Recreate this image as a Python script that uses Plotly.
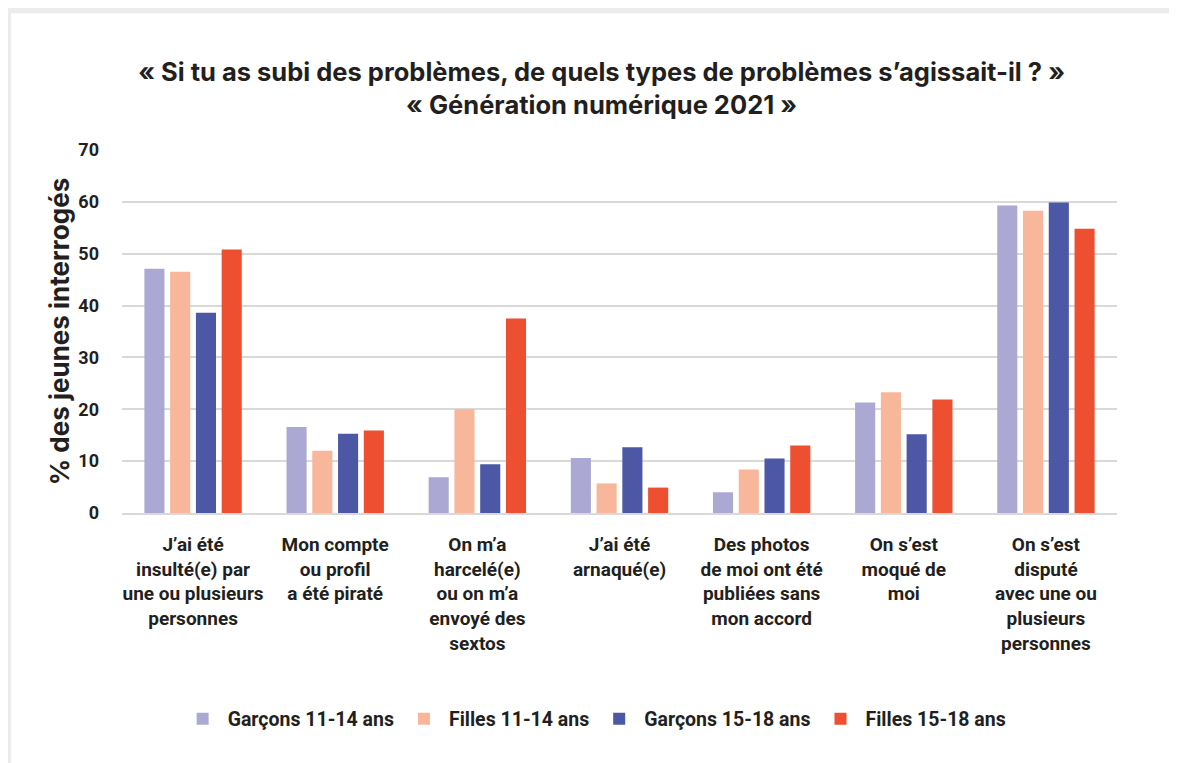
import plotly.graph_objects as go

categories = [
    "J’ai été<br>insulté(e) par<br>une ou plusieurs<br>personnes",
    "Mon compte<br>ou profil<br>a été piraté",
    "On m’a<br>harcelé(e)<br>ou on m’a<br>envoyé des<br>sextos",
    "J’ai été<br>arnaqué(e)",
    "Des photos<br>de moi ont été<br>publiées sans<br>mon accord",
    "On s’est<br>moqué de<br>moi",
    "On s’est<br>disputé<br>avec une ou<br>plusieurs<br>personnes",
]
series_names = ["Garçons 11-14 ans", "Filles 11-14 ans", "Garçons 15-18 ans", "Filles 15-18 ans"]
garcons_11_14 = [47.1, 16.6, 6.9, 10.6, 4.0, 21.3, 59.3]
filles_11_14 = [46.5, 12.0, 20.0, 5.7, 8.4, 23.3, 58.3]
garcons_15_18 = [38.6, 15.3, 9.4, 12.7, 10.5, 15.2, 59.9]
filles_15_18 = [50.8, 15.9, 37.5, 4.9, 13.0, 21.9, 54.8]
y_ticks = [0, 10, 20, 30, 40, 50, 60, 70]

colors = ["#ABA9D3", "#F8B69B", "#4C57A5", "#EE4F30"]
FONT = "Roboto"
TITLE_FONT = "Inter"
DARK = "#231F20"

fig = go.Figure()
for name, vals, col in zip(series_names, [garcons_11_14, filles_11_14, garcons_15_18, filles_15_18], colors):
    fig.add_trace(go.Bar(x=categories, y=vals, name=name, marker=dict(color=col, line=dict(width=0))))

fig.update_layout(
    width=1169, height=755,
    margin=dict(l=114, r=60, t=142, b=250),
    paper_bgcolor="white", plot_bgcolor="white",
    barmode="group", bargap=0.275, bargroupgap=0.22,
    font=dict(family=FONT, color=DARK),
    title=dict(
        text="« Si tu as subi des problèmes, de quels types de problèmes s’agissait-il ? »<br>« Génération numérique 2021 »",
        xref="paper", x=0.482, xanchor="center", yref="container", y=0.903, yanchor="middle",
        font=dict(family=TITLE_FONT, size=25.5, color=DARK, weight="bold"),
    ),
    yaxis=dict(
        range=[0, 70], tickvals=y_ticks, showgrid=True, gridcolor="#D9D9D9", gridwidth=2,
        zeroline=False, showline=False, ticks="", ticklabelstandoff=22,
        tickfont=dict(family=FONT, size=18, color=DARK, weight="bold"),
        title=dict(text="% des jeunes interrogés\u00a0\u00a0", standoff=1,
                   font=dict(family=TITLE_FONT, size=26, color=DARK, weight="bold")),
    ),
    xaxis=dict(
        showline=True, linecolor="#D9D9D9", linewidth=2, ticks="", ticklabelstandoff=13,
        tickfont=dict(family=FONT, size=19, color=DARK, weight="bold"),
        tickangle=0,
    ),
    legend=dict(
        orientation="h", x=0.475, xanchor="center", y=-0.5675, yanchor="middle",
        font=dict(family=FONT, size=19.5, color=DARK, weight="bold"),
        itemwidth=40, traceorder="normal",
    ),
    shapes=[
        dict(type="rect", xref="paper", yref="paper", x0=-0.2, x1=1.2, y0=1.377, y1=1.6,
             fillcolor="#ECECEC", line=dict(width=0), layer="below"),
        dict(type="rect", xref="paper", yref="paper", x0=-0.2, x1=-0.1116, y0=-0.8, y1=1.6,
             fillcolor="#ECECEC", line=dict(width=0), layer="below"),
    ],
)

fig.write_html("out.html")
